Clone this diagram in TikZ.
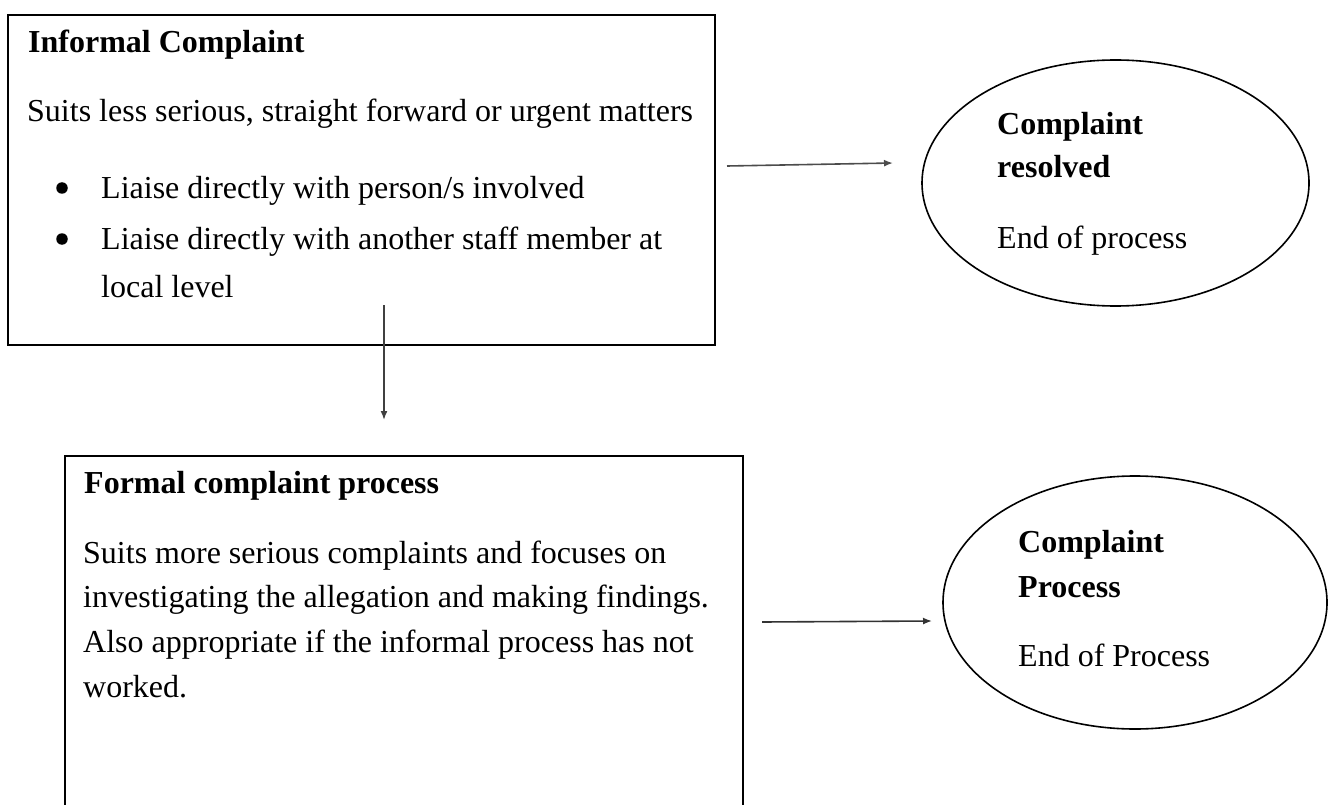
\documentclass[tikz,border=0pt]{standalone}
\usepackage{fontspec}
\setmainfont{Liberation Serif}
\usetikzlibrary{arrows.meta,shapes.geometric}
\begin{document}
\begin{tikzpicture}[x=1pt,y=-1pt,
  box/.style={draw, line width=2pt, anchor=north west, inner sep=0pt},
  oval/.style={draw, ellipse, line width=1.6pt, inner sep=0pt},
  txt/.style={anchor=base west, inner sep=0pt, font=\fontsize{32}{38}\selectfont},
  btxt/.style={anchor=base west, inner sep=0pt, font=\fontsize{32}{38}\selectfont\bfseries},
  bul/.style={circle, fill, inner sep=0pt, minimum size=11.5pt},
  arr/.style={-{Latex[length=9pt,width=7pt]}, line width=1.6pt}]
\useasboundingbox (0,0) rectangle (1335,805);
\clip (0,0) rectangle (1335,805);
% boxes
\node[box, minimum width=707pt, minimum height=330pt] (b1) at (7,14) {};
\node[box, minimum width=678pt, minimum height=370pt] (b2) at (64,455) {};
% ellipses
\node[oval, minimum width=387pt, minimum height=246pt] (e1) at (1115.5,183) {};
\node[oval, minimum width=384pt, minimum height=253pt] (e2) at (1135,602.5) {};
% box 1 text
\node[btxt] (t1) at (28,53) {Informal Complaint};
\node[txt] (t2) at (27,122) {Suits less serious, straight forward or urgent matters};
\node[bul] (u1) at (62,188) {};
\node[txt] (t3) at (101,198) {Liaise directly with person/s involved};
\node[bul] (u2) at (62,239) {};
\node[txt] (t4) at (101,249) {Liaise directly with another staff member at};
\node[txt] (t5) at (101,297) {local level};
% box 2 text
\node[btxt] (f1) at (84,493) {Formal complaint process};
\node[txt] (f2) at (83,563) {Suits more serious complaints and focuses on};
\node[txt] (f3) at (83,607) {investigating the allegation and making findings.};
\node[txt] (f4) at (83,652) {Also appropriate if the informal process has not};
\node[txt] (f5) at (83,697) {worked.};
% ellipse texts
\node[btxt] (r1) at (997,135) {Complaint};
\node[btxt] (r2) at (997,178) {resolved};
\node[txt] (r3) at (997,248) {End of process};
\node[btxt] (p1) at (1018,552) {Complaint};
\node[btxt] (p2) at (1018,597) {Process};
\node[txt] (p3) at (1018,666) {End of Process};
% connectors
\coordinate (a1s) at (727,166);
\coordinate (a1e) at (893,163);
\coordinate (a2s) at (384,305);
\coordinate (a2e) at (384,420);
\coordinate (a3s) at (762,622);
\coordinate (a3e) at (932,621);
\draw[arr, black!70] (a1s) -- (a1e);
\draw[arr, black!75] (a2s) -- (a2e);
\draw[arr, black!80] (a3s) -- (a3e);
\end{tikzpicture}
\end{document}
